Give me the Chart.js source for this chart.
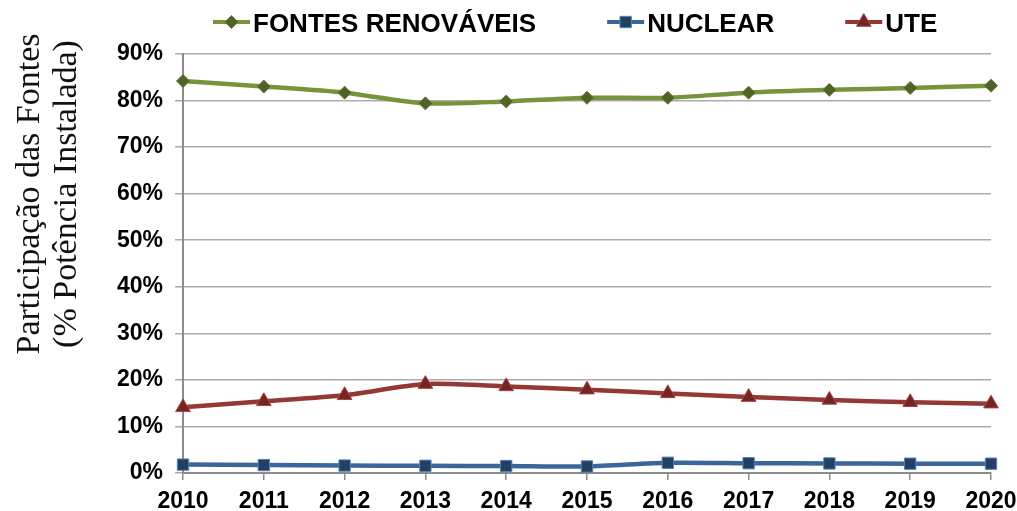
<!DOCTYPE html>
<html lang="pt">
<head>
<meta charset="utf-8">
<title>Participação das Fontes</title>
<script src="https://cdn.jsdelivr.net/npm/chart.js@4"></script>
<style>
    html, body { margin: 0; padding: 0; background: #fff; }
    #chart { display: block; }
</style>
</head>
<body>
<canvas id="chart" width="1017" height="511"></canvas>
<script>
const years = ['2010', '2011', '2012', '2013', '2014', '2015', '2016', '2017', '2018', '2019', '2020'];

// Share of installed capacity, in percent
const renovaveis = [84.2, 83.0, 81.7, 79.4, 79.8, 80.6, 80.6, 81.7, 82.3, 82.7, 83.2];
const nuclear = [1.8, 1.7, 1.6, 1.55, 1.5, 1.4, 2.2, 2.1, 2.05, 2.0, 2.0];
const ute = [14.1, 15.4, 16.7, 19.1, 18.6, 17.9, 17.1, 16.3, 15.7, 15.2, 14.9];

const yTicks = [0, 10, 20, 30, 40, 50, 60, 70, 80, 90];
const yTitleLines = ['Participação das Fontes', '(% Potência Instalada)'];

const SANS = "'Liberation Sans', Arial, sans-serif";
const SERIF = "'Liberation Serif', 'Times New Roman', serif";

// Legend drawn as Excel does it: a short line with the marker on top
const lineLegend = {
    id: 'lineLegend',
    afterDraw(chart) {
        const ctx = chart.ctx;
        let x = 213;
        const y = 22;
        ctx.save();
        ctx.font = 'bold 26px ' + SANS;
        ctx.textBaseline = 'alphabetic';
        ctx.textAlign = 'left';
        chart.data.datasets.forEach(ds => {
            ctx.strokeStyle = ds.borderColor;
            ctx.lineWidth = 4;
            ctx.beginPath();
            ctx.moveTo(x, y);
            ctx.lineTo(x + 37, y);
            ctx.stroke();

            ctx.fillStyle = ds.pointBackgroundColor;
            ctx.strokeStyle = ds.pointBorderColor;
            ctx.lineWidth = 1;
            Chart.helpers.drawPoint(ctx, {
                pointStyle: ds.pointStyle,
                radius: ds.pointRadius,
                rotation: 0,
                borderWidth: 1
            }, x + 18.5, y);

            ctx.fillStyle = '#000';
            ctx.fillText(ds.label, x + 40, 31.5);
            x += 40 + ctx.measureText(ds.label).width + 71;
        });
        ctx.restore();
    }
};

// Two-line rotated title for the value axis
const yTitle = {
    id: 'yTitle',
    afterDraw(chart) {
        const ctx = chart.ctx;
        ctx.save();
        ctx.font = '34px ' + SERIF;
        ctx.fillStyle = '#111';
        ctx.textAlign = 'center';
        ctx.textBaseline = 'middle';
        ctx.translate(0, 194);
        ctx.rotate(-Math.PI / 2);
        yTitleLines.forEach((line, i) => {
            ctx.fillText(line, 0, 30 + i * 37);
        });
        ctx.restore();
    }
};

new Chart(document.getElementById('chart'), {
    type: 'line',
    data: {
        labels: years,
        datasets: [
            {
                label: 'FONTES RENOVÁVEIS',
                data: renovaveis,
                borderColor: '#77933C',
                borderWidth: 4.5,
                pointStyle: 'rectRot',
                pointRadius: 6.5,
                pointBackgroundColor: '#4F6228',
                pointBorderColor: '#5E7A2E',
                pointBorderWidth: 1,
                tension: 0.25
            },
            {
                label: 'NUCLEAR',
                data: nuclear,
                borderColor: '#3A6699',
                borderWidth: 4.5,
                pointStyle: 'rect',
                pointRadius: 8,
                pointBackgroundColor: '#243F60',
                pointBorderColor: '#4F81BD',
                pointBorderWidth: 1,
                tension: 0.25
            },
            {
                label: 'UTE',
                data: ute,
                borderColor: '#953735',
                borderWidth: 4.5,
                pointStyle: 'triangle',
                pointRadius: 8.5,
                pointBackgroundColor: '#722522',
                pointBorderColor: '#A8443F',
                pointBorderWidth: 1,
                tension: 0.25
            }
        ]
    },
    options: {
        responsive: false,
        animation: false,
        devicePixelRatio: 1,
        layout: { padding: { top: 54, right: 26, bottom: 0, left: 0 } },
        plugins: {
            legend: { display: false },
            tooltip: { enabled: false }
        },
        scales: {
            x: {
                offset: false,
                afterFit: scale => {
                    scale.height = 38;
                    scale.paddingLeft = 0;
                    scale.paddingRight = 0;
                },
                grid: {
                    drawOnChartArea: false,
                    drawTicks: true,
                    tickLength: 7,
                    color: '#8c8c8c',
                    lineWidth: 1.5
                },
                border: { color: '#8c8c8c', width: 2 },
                ticks: {
                    color: '#000',
                    padding: 9,
                    maxRotation: 0,
                    font: { family: SANS, size: 23, weight: 'bold', lineHeight: 1.1 }
                }
            },
            y: {
                min: 0,
                max: 90,
                afterFit: scale => {
                    scale.width = 183;
                    scale.paddingTop = 0;
                    scale.paddingBottom = 0;
                },
                afterBuildTicks: scale => { scale.ticks = yTicks.map(v => ({ value: v })); },
                grid: {
                    color: '#ababab',
                    lineWidth: 1.5,
                    tickLength: 8
                },
                border: { color: '#8c8c8c', width: 2 },
                ticks: {
                    color: '#000',
                    padding: 12,
                    callback: v => v + '%',
                    font: { family: SANS, size: 23, weight: 'bold' }
                }
            }
        }
    },
    plugins: [lineLegend, yTitle]
});
</script>
</body>
</html>
